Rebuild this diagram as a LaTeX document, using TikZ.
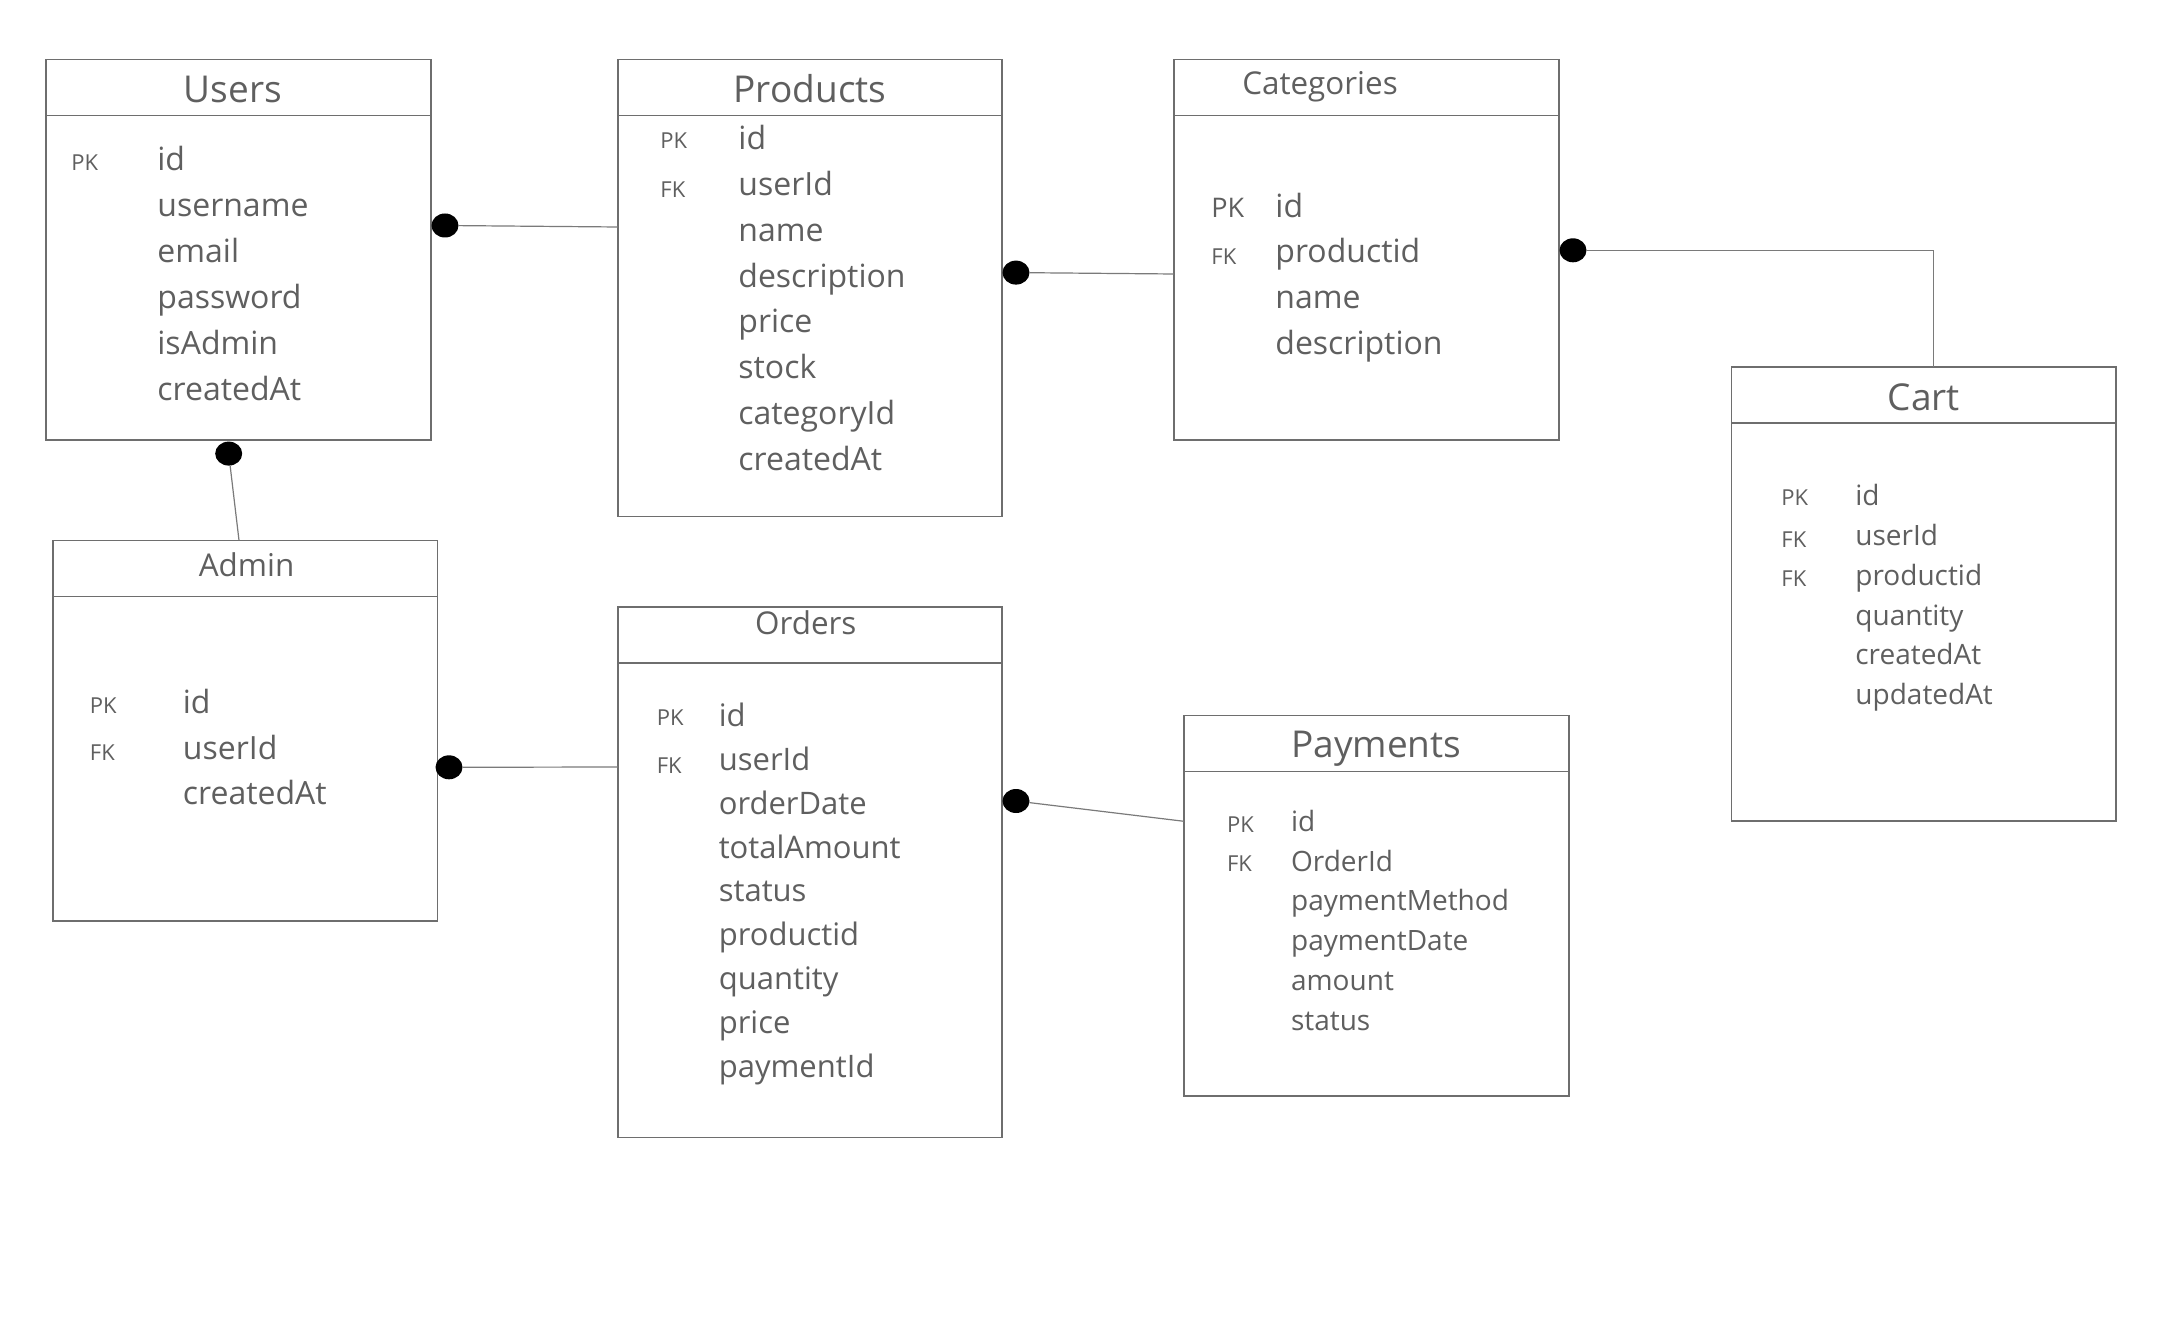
\documentclass[tikz,border=0pt]{standalone}
\usepackage{fontspec}
\setmainfont{Open Sans}
\usetikzlibrary{shapes.geometric}
\definecolor{txt}{HTML}{5F5F5F}
\definecolor{edgec}{HTML}{6E6E6E}
\definecolor{connc}{HTML}{7A7A7A}
\begin{document}
\begin{tikzpicture}[x=0.5pt,y=-0.5pt,
  tbl/.style={draw=edgec, line width=0.75pt, rectangle, anchor=north west, inner sep=0pt, outer sep=0pt},
  hdr/.style={draw=edgec, line width=0.75pt},
  bigtitle/.style={text=txt, anchor=base, inner sep=0pt, font=\fontsize{18.5}{22}\selectfont},
  smalltitle/.style={text=txt, anchor=base, inner sep=0pt, font=\fontsize{15.7}{19}\selectfont},
  fld/.style={text=txt, anchor=base west, inner sep=0pt, font=\fontsize{16}{19}\selectfont},
  fldm/.style={fld, font=\fontsize{15.5}{19}\selectfont},
  flds/.style={fld, font=\fontsize{14}{17}\selectfont},
  key/.style={text=txt, anchor=base west, inner sep=0pt, font=\fontsize{11}{13}\selectfont},
  bigkey/.style={key, font=\fontsize{13.5}{16}\selectfont},
  dot/.style={ellipse, fill=black, draw=none, minimum width=13.5pt, minimum height=12pt, inner sep=0pt, outer sep=0pt},
  conn/.style={draw=connc, line width=0.6pt}
]
\fill[white] (0,0) rectangle (2160,1342);
\useasboundingbox (0,0) rectangle (2160,1342);

% ---------- Users ----------
\node[tbl, minimum width=192.5pt, minimum height=190.25pt] (users) at (46,59.5) {};
\draw[hdr] ([yshift=-28pt]users.north west) -- ([yshift=-28pt]users.north east);
\node[bigtitle] (users-t) at (233,102.7) {Users};
\node[key] (users-pk) at (71,170.3) {PK};
\foreach \t [count=\i] in {id,username,email,password,isAdmin,createdAt}
  \node[fld] (users-f\i) at (157,{170.3+46*(\i-1)}) {\t};

% ---------- Products ----------
\node[tbl, minimum width=192pt, minimum height=228.5pt] (products) at (618,59.5) {};
\draw[hdr] ([yshift=-28pt]products.north west) -- ([yshift=-28pt]products.north east);
\node[bigtitle] (products-t) at (810,102.7) {Products};
\node[key] (products-pk) at (660,149) {PK};
\node[key] (products-fk) at (660,197.7) {FK};
\foreach \t [count=\i] in {id,userId,name,description,price,stock,categoryId,createdAt}
  \node[fld] (products-f\i) at (738,{149.8+45.8*(\i-1)}) {\t};

% ---------- Categories ----------
\node[tbl, minimum width=192.5pt, minimum height=190.25pt] (categories) at (1174,59.5) {};
\draw[hdr] ([yshift=-28pt]categories.north west) -- ([yshift=-28pt]categories.north east);
\node[smalltitle] (categories-t) at (1320,95) {Categories};
\node[bigkey] (categories-pk) at (1211,218) {PK};
\node[key] (categories-fk) at (1211,265) {FK};
\foreach \t [count=\i] in {id,productid,name,description}
  \node[fld] (categories-f\i) at (1275,{217.4+45.6*(\i-1)}) {\t};

% ---------- Cart ----------
\node[tbl, minimum width=192.25pt, minimum height=227pt] (cart) at (1731.5,367) {};
\draw[hdr] ([yshift=-28pt]cart.north west) -- ([yshift=-28pt]cart.north east);
\node[bigtitle] (cart-t) at (1923.7,410.8) {Cart};
\node[key] (cart-pk) at (1781,506) {PK};
\node[key] (cart-fk1) at (1781,547.7) {FK};
\node[key] (cart-fk2) at (1781,587) {FK};
\foreach \t [count=\i] in {id,userId,productid,quantity,createdAt,updatedAt}
  \node[flds] (cart-f\i) at (1855,{505.8+39.8*(\i-1)}) {\t};

% ---------- Admin ----------
\node[tbl, minimum width=192.2pt, minimum height=190.35pt] (admin) at (53,540.3) {};
\draw[hdr] ([yshift=-28pt]admin.north west) -- ([yshift=-28pt]admin.north east);
\node[smalltitle] (admin-t) at (246.6,576.4) {Admin};
\node[key] (admin-pk) at (89.5,713.4) {PK};
\node[key] (admin-fk) at (89.5,760.5) {FK};
\foreach \t [count=\i] in {id,userId,createdAt}
  \node[fld] (admin-f\i) at (182.5,{713.4+45.6*(\i-1)}) {\t};

% ---------- Orders ----------
\node[tbl, minimum width=192pt, minimum height=265.25pt] (orders) at (618,607) {};
\draw[hdr] ([yshift=-28pt]orders.north west) -- ([yshift=-28pt]orders.north east);
\node[smalltitle] (orders-t) at (805.8,634.7) {Orders};
\node[key] (orders-pk) at (656.4,725.4) {PK};
\node[key] (orders-fk) at (656.4,773.3) {FK};
\foreach \t [count=\i] in {id,userId,orderDate,totalAmount,status,productid,quantity,price,paymentId}
  \node[fldm] (orders-f\i) at (718.4,{726.7+43.8*(\i-1)}) {\t};

% ---------- Payments ----------
\node[tbl, minimum width=192.5pt, minimum height=190.2pt] (payments) at (1184,715.6) {};
\draw[hdr] ([yshift=-28pt]payments.north west) -- ([yshift=-28pt]payments.north east);
\node[bigtitle] (payments-t) at (1376.2,757.5) {Payments};
\node[key] (payments-pk) at (1226.7,832.4) {PK};
\node[key] (payments-fk) at (1226.7,871) {FK};
\foreach \t [count=\i] in {id,OrderId,paymentMethod,paymentDate,amount,status}
  \node[flds] (payments-f\i) at (1290.7,{831.1+39.9*(\i-1)}) {\t};

% ---------- Connectors ----------
\node[dot] (d1) at (445,225.5) {};
\coordinate (e1) at (618,227);
\draw[conn] (d1) -- (e1);

\node[dot] (d2) at (228.7,453.6) {};
\coordinate (e2) at (239,540.3);
\draw[conn] (d2) -- (e2);

\node[dot] (d3) at (1016,272.6) {};
\coordinate (e3) at (1174,274);
\draw[conn] (d3) -- (e3);

\node[dot] (d4) at (1573,250.3) {};
\coordinate (e4) at (1933.3,367);
\draw[conn] (d4.east) -- (e4 |- d4.east) -- (e4);

\node[dot] (d5) at (449,767.3) {};
\coordinate (e5) at (618,767);
\draw[conn] (d5) -- (e5);

\node[dot] (d6) at (1016,801) {};
\coordinate (e6) at (1184,821.3);
\draw[conn] (d6) -- (e6);
\end{tikzpicture}
\end{document}
